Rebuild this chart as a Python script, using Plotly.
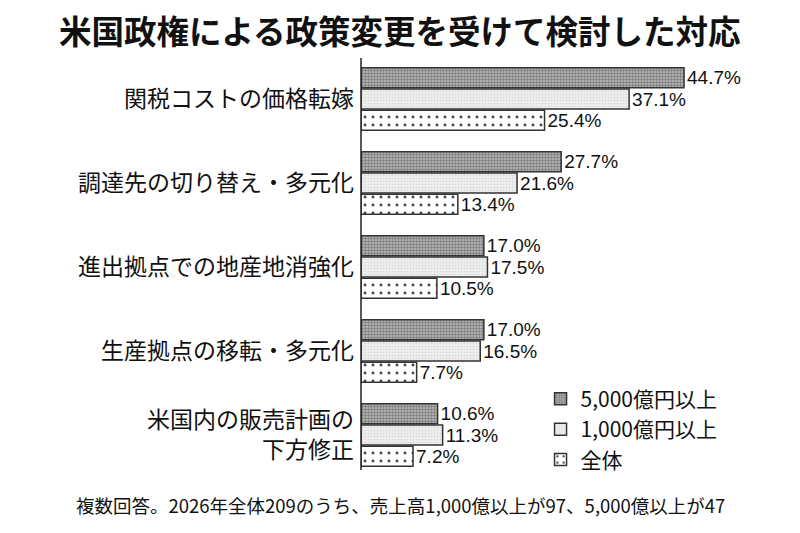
import plotly.graph_objects as go

categories = [
    "関税コストの価格転嫁",
    "調達先の切り替え・多元化",
    "進出拠点での地産地消強化",
    "生産拠点の移転・多元化",
    "米国内の販売計画の<br>下方修正",
]
series_names = ["5,000億円以上", "1,000億円以上", "全体"]
v_5000 = [44.7, 27.7, 17.0, 17.0, 10.6]
v_1000 = [37.1, 21.6, 17.5, 16.5, 11.3]
v_all = [25.4, 13.4, 10.5, 7.7, 7.2]

title = "米国政権による政策変更を受けて検討した対応"
footnote = "複数回答。2026年全体209のうち、売上高1,000億以上が97、5,000億以上が47"

FONT = "Noto Sans CJK JP"
NUMFONT = "Liberation Sans"

styles = [
    dict(bg="#bdbdbd", fg="#7a7a7a", shape=".", size=3, sol=0.5),
    dict(bg="#f2f2f2", fg="#d9d9d9", shape=".", size=3, sol=0.4),
    dict(bg="#ffffff", fg="#444444", shape=".", size=8, sol=0.1),
]

fig = go.Figure()
for name, vals, st in zip(series_names, [v_5000, v_1000, v_all], styles):
    fig.add_trace(go.Bar(
        y=categories, x=vals, name=name, orientation="h",
        marker=dict(color=st["bg"], line=dict(color="#333333", width=1.5),
                    pattern=dict(shape=st["shape"], bgcolor=st["bg"], fgcolor=st["fg"],
                                 size=st["size"], solidity=st["sol"], fillmode="replace")),
        text=[f"{v:.1f}%" for v in vals], textposition="outside",
        constraintext="none",
        textfont=dict(size=19, color="#111111", family=NUMFONT),
        cliponaxis=False,
    ))

fig.update_layout(
    width=800, height=533,
    margin=dict(l=361, r=0, t=57, b=56),
    paper_bgcolor="white", plot_bgcolor="white",
    barmode="group", bargap=0.24, bargroupgap=0.06,
    font=dict(family=FONT, color="#111111"),
    showlegend=True,
    legend=dict(x=0.409, y=0.234, xanchor="left", yanchor="top",
                font=dict(size=21, family=FONT), tracegroupgap=0,
                bgcolor="rgba(0,0,0,0)"),
    xaxis=dict(range=[0, 60.75], showgrid=False, zeroline=False, showticklabels=False,
               ticks="", showline=False),
    yaxis=dict(autorange="reversed", showgrid=False, zeroline=False, ticks="",
               showline=False, tickfont=dict(size=23, family=FONT, color="#111111"),
               ticklabelstandoff=6),
    annotations=[
        dict(text=title, x=400, y=29, xref="paper", yref="paper", showarrow=False,
             font=dict(size=32.5, family=FONT, color="#111111", weight="bold"),
             xanchor="center", yanchor="middle"),
        dict(text=footnote, x=400, y=505, xref="paper", yref="paper", showarrow=False,
             font=dict(size=18.5, family=FONT, color="#111111"), xanchor="center", yanchor="middle"),
    ],
    shapes=[dict(type="line", xref="paper", yref="paper", x0=0, x1=0, y0=1.0, y1=0.0,
                 line=dict(color="#222222", width=1.5))],
)

# convert pixel positions for annotations to paper coords
pw, ph = 800 - 361, 533 - 57 - 56
for a in fig.layout.annotations:
    px, py = a.x, a.y
    a.x = (px - 361) / pw
    a.y = (533 - 56 - py) / ph
fig.layout.shapes[0].y0 = (477 - 58) / ph
fig.layout.shapes[0].y1 = (477 - 470) / ph

fig.write_html("out.html")
